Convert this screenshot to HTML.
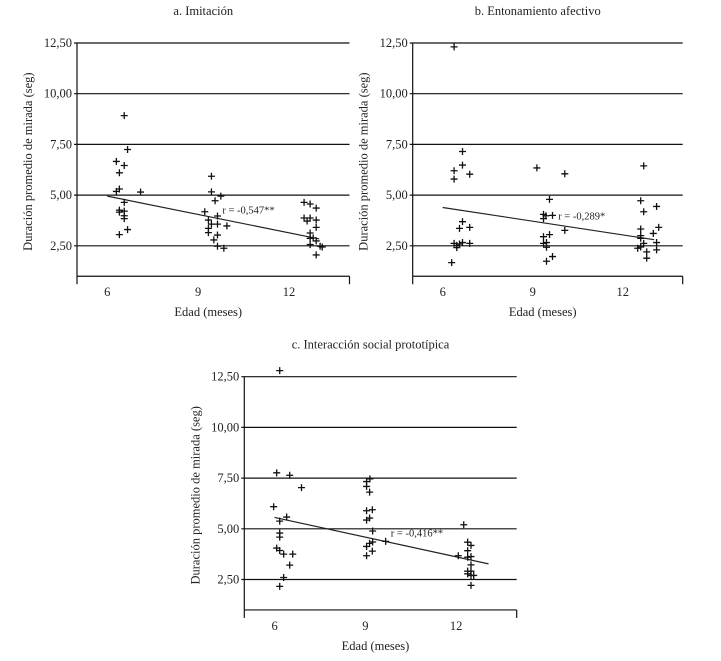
<!DOCTYPE html>
<html><head><meta charset="utf-8">
<style>
body{margin:0;background:#fff;}
svg{display:block;font-family:"Liberation Serif",serif;}
</style></head>
<body>
<svg id="chart" width="721" height="661" viewBox="0 0 721 661"></svg>
<script>
const yTicks = [2.5, 5, 7.5, 10, 12.5];
const yTickLabels = ["2,50", "5,00", "7,50", "10,00", "12,50"];
const xTicks = [6, 9, 12];
const xTickLabels = ["6", "9", "12"];

const titleA = "a. Imitación";
const ageA = [6.56,6.67,6.3,6.56,6.4,6.4,6.3,7.1,6.56,6.4,6.56,6.4,6.56,6.56,6.67,6.4,
 9.44,9.44,9.75,9.56,9.22,9.64,9.34,9.44,9.64,9.95,9.34,9.34,9.64,9.52,9.64,9.85,
 12.5,12.7,12.9,12.5,12.7,12.6,12.9,12.9,12.7,12.7,12.8,12.9,12.7,13.03,13.1,12.9];
const gazeA = [8.92,7.25,6.66,6.46,6.1,5.3,5.18,5.15,4.64,4.26,4.21,4.16,3.98,3.84,3.3,3.05,
 5.93,5.16,4.95,4.72,4.18,3.97,3.77,3.57,3.57,3.48,3.36,3.15,3.03,2.79,2.48,2.38,
 4.64,4.56,4.36,3.87,3.87,3.72,3.77,3.41,3.13,2.87,2.89,2.74,2.56,2.48,2.44,2.05];
const fitA = [[6,4.95],[13.0,2.84]];
const rA = "r = -0,547**";

const titleB = "b. Entonamiento afectivo";
const ageB = [6.38,6.66,6.66,6.38,6.9,6.38,6.66,6.56,6.9,6.38,6.47,6.56,6.66,6.9,6.47,6.3,
 9.14,10.07,9.56,9.36,9.44,9.66,9.36,10.07,9.56,9.36,9.36,9.46,9.46,9.66,9.46,
 12.7,12.6,12.7,13.13,13.2,12.6,13.02,12.6,12.6,12.7,13.13,12.5,12.6,12.8,13.13,12.8];
const gazeB = [12.31,7.15,6.48,6.2,6.03,5.79,3.69,3.36,3.41,2.62,2.52,2.59,2.66,2.62,2.41,1.67,
 6.34,6.05,4.79,4.05,3.98,4.0,3.84,3.26,3.05,2.95,2.62,2.66,2.43,1.97,1.74,
 6.44,4.72,4.18,4.44,3.41,3.33,3.11,3.0,2.87,2.62,2.66,2.38,2.44,2.2,2.3,1.89];
const fitB = [[6,4.39],[13.05,2.8]];
const rB = "r = -0,289*";

const titleC = "c. Interacción social prototípica";
const ageC = [6.17,6.07,6.5,6.89,5.97,6.4,6.17,6.17,6.17,6.07,6.17,6.3,6.6,6.5,6.3,6.17,
 9.15,9.04,9.04,9.14,9.23,9.04,9.14,9.04,9.24,9.24,9.14,9.04,9.23,9.04,9.67,
 12.25,12.38,12.49,12.38,12.07,12.38,12.49,12.49,12.38,12.49,12.38,12.49,12.58,12.49];
const gazeC = [12.8,7.76,7.64,7.03,6.09,5.58,5.38,4.79,4.59,4.05,3.93,3.75,3.75,3.21,2.6,2.16,
 7.46,7.33,7.09,6.81,5.94,5.89,5.53,5.43,4.89,4.35,4.28,4.13,3.9,3.67,4.38,
 5.2,4.34,4.18,3.92,3.67,3.6,3.63,3.22,2.91,2.91,2.78,2.7,2.7,2.21];
const fitC = [[6,5.56],[13.07,3.27]];
const rC = "r = -0,416**";

const NS = "http://www.w3.org/2000/svg";
const svg = document.getElementById("chart");
function mk(tag, attrs, parent) {
  const e = document.createElementNS(NS, tag);
  for (const k in attrs) e.setAttribute(k, attrs[k]);
  (parent || svg).appendChild(e);
  return e;
}

function panel(id, left, right, top, title, ages, gazes, fit, rLabel, rPos) {
  const g = mk("g", {});
  
  
  const y25 = top + 50.7 * 4; // y pixel for 2.5
  const ppuY = 50.7 / 2.5;
  const sy = v => y25 - (v - 2.5) * ppuY;
  const bottom = sy(1.0);
  const sx = v => left + (v - 5) * (right - left) / 9;

  const t = mk("text", {x: (left + right) / 2 - 10, y: top - 28, "text-anchor": "middle", "font-size": 12.5, fill: "#222"}, g);
  t.textContent = title;
  
  

  yTicks.forEach((v, i) => {
    const l = mk("line", {x1: left - 3, x2: right, y1: sy(v), y2: sy(v), stroke: "#111", "stroke-width": 1.2}, g);
    
    
    const tl = mk("text", {x: left - 5, y: sy(v) + 4, "text-anchor": "end", "font-size": 12.5, fill: "#222"}, g);
    tl.textContent = yTickLabels[i];
    
    
  });
  const ya = mk("line", {x1: left, x2: left, y1: sy(12.5), y2: bottom, stroke: "#111", "stroke-width": 1.2}, g);
  
  
  const xa = mk("line", {x1: left, x2: right, y1: bottom, y2: bottom, stroke: "#111", "stroke-width": 1.2}, g);
  
  
  [left, right].forEach(x => {
    const tk = mk("line", {x1: x, x2: x, y1: bottom, y2: bottom + 8, stroke: "#111", "stroke-width": 1.2}, g);
    
    
  });
  xTicks.forEach((v, i) => {
    const tl = mk("text", {x: sx(v), y: bottom + 20, "text-anchor": "middle", "font-size": 12.5, fill: "#222"}, g);
    tl.textContent = xTickLabels[i];
    
    
  });
  const xt = mk("text", {x: (left + right) / 2 - 5, y: bottom + 40, "text-anchor": "middle", "font-size": 12.5, fill: "#222"}, g);
  xt.textContent = "Edad (meses)";
  
  
  const cy = (sy(12.5) + bottom) / 2 + 2;
  const yt = mk("text", {x: left - 45, y: cy, "text-anchor": "middle", "font-size": 12.5, fill: "#222", transform: `rotate(-90 ${left - 45} ${cy})`}, g);
  yt.textContent = "Duración promedio de mirada (seg)";
  
  

  const fl = mk("line", {x1: sx(fit[0][0]), y1: sy(fit[0][1]), x2: sx(fit[1][0]), y2: sy(fit[1][1]), stroke: "#222", "stroke-width": 1.2}, g);
  
  

  ages.forEach((a, i) => {
    const x = sx(a), y = sy(gazes[i]);
    const p = mk("path", {d: `M${x - 3.5} ${y}H${x + 3.5}M${x} ${y - 3.5}V${y + 3.5}`, stroke: "#111", "stroke-width": 1.3}, g);
    
    
  });

  const rt = mk("text", {x: sx(rPos[0]), y: sy(rPos[1]), "font-size": 10.5, fill: "#222"}, g);
  rt.textContent = rLabel;
  
  
}

panel("panel-imitacion", 77, 349.5, 43, titleA, ageA, gazeA, fitA, rA, [9.8, 4.1]);
panel("panel-entonamiento", 412.7, 682.7, 43, titleB, ageB, gazeB, fitB, rB, [9.85, 3.8]);
panel("panel-interaccion", 244.3, 516.7, 376.7, titleC, ageC, gazeC, fitC, rC, [9.84, 4.62]);
</script>
</body></html>
